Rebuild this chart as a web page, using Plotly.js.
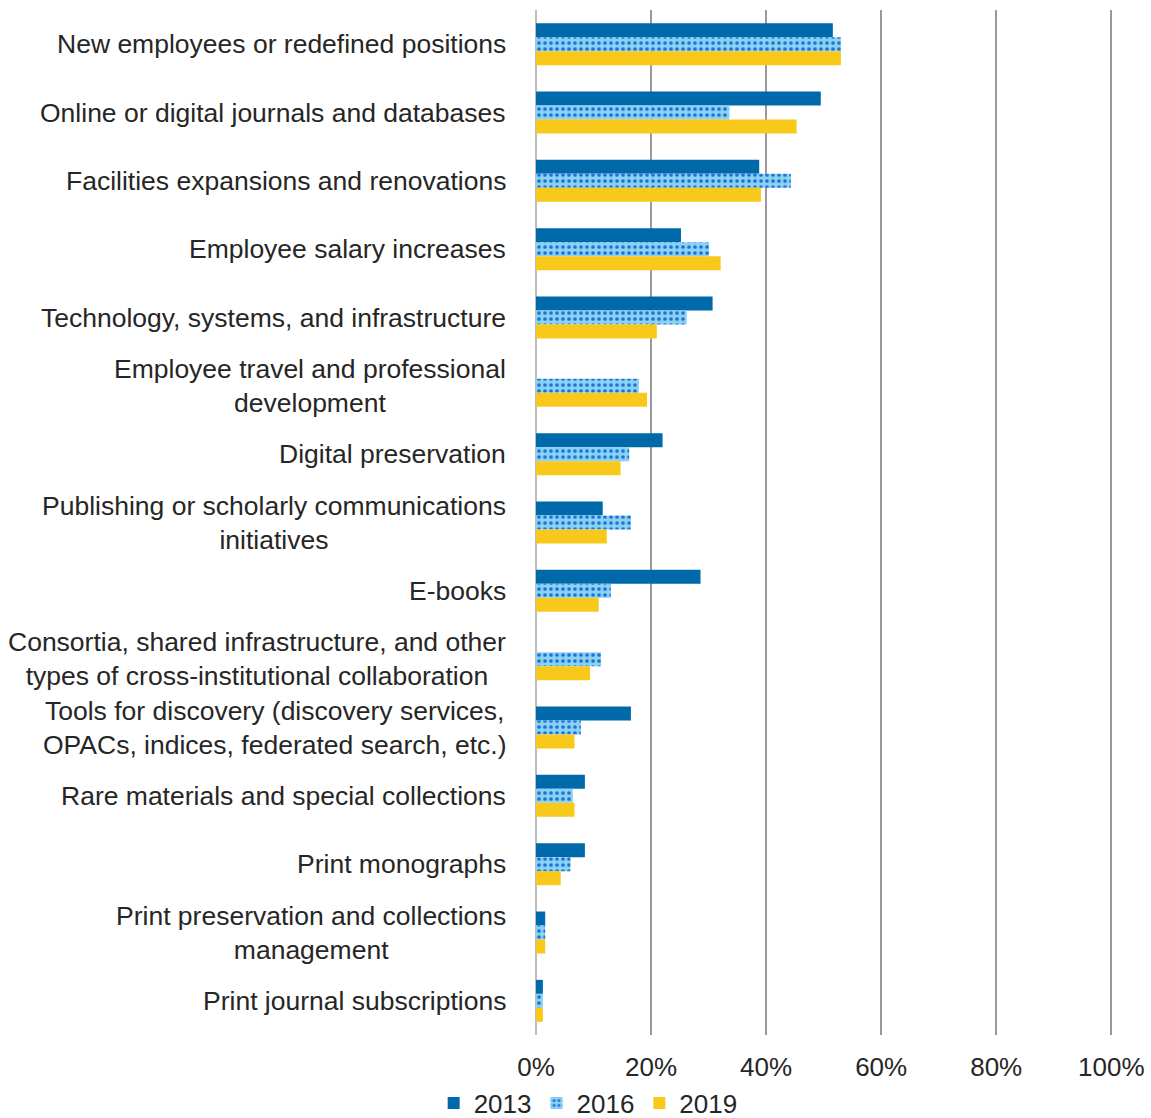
<!DOCTYPE html>
<html>
<head>
<meta charset="utf-8">
<script src="https://cdn.plot.ly/plotly-3.0.1.min.js"></script>
<style>html,body{margin:0;padding:0;background:#fff;}#chart{width:1151px;height:1118px;}</style>
</head>
<body>
<div id="chart"></div>
<script>
const categories = [
  "New employees or redefined positions",
  "Online or digital journals and databases",
  "Facilities expansions and renovations",
  "Employee salary increases",
  "Technology, systems, and infrastructure",
  "Employee travel and professional<br>development",
  "Digital preservation",
  "Publishing or scholarly communications<br>initiatives",
  "E-books",
  "Consortia, shared infrastructure, and other<br>types of cross-institutional collaboration",
  "Tools for discovery (discovery services,<br>OPACs, indices, federated search, etc.)",
  "Rare materials and special collections",
  "Print monographs",
  "Print preservation and collections<br>management",
  "Print journal subscriptions"
];
const values2013 = [51.6, 49.5, 38.8, 25.2, 30.7, null, 22.0, 11.6, 28.6, null, 16.5, 8.5, 8.5, 1.6, 1.2];
const values2016 = [53.0, 33.6, 44.3, 30.1, 26.2, 17.9, 16.2, 16.5, 13.0, 11.3, 7.8, 6.4, 6.0, 1.6, 1.2];
const values2019 = [53.0, 45.3, 39.1, 32.1, 21.0, 19.3, 14.7, 12.3, 10.9, 9.4, 6.7, 6.7, 4.3, 1.6, 1.2];
const seriesNames = ["2013", "2016", "2019"];
const xTickVals = [0, 20, 40, 60, 80, 100];
const xTickText = ["0%", "20%", "40%", "60%", "80%", "100%"];

const FONT = "Liberation Sans, Arial, sans-serif";
const TXT = "#262626";

const traces = [
  {
    type: "bar", orientation: "h", name: seriesNames[0],
    y: categories, x: values2013,
    marker: {color: "#0069AA", line: {width: 0}},
    hoverinfo: "x+y"
  },
  {
    type: "bar", orientation: "h", name: seriesNames[1],
    y: categories, x: values2016,
    marker: {
      color: "#88D3F2", line: {width: 0},
      pattern: {shape: ".", fgcolor: "#2370DA", bgcolor: "#88D3F2", size: 6, solidity: 0.3}
    },
    hoverinfo: "x+y"
  },
  {
    type: "bar", orientation: "h", name: seriesNames[2],
    y: categories, x: values2019,
    marker: {color: "#F8C91B", line: {width: 0}},
    hoverinfo: "x+y"
  }
];

const annotations = categories.map(c => ({
  text: c, xref: "paper", yref: "y", x: 0, y: c,
  xanchor: "right", yanchor: "middle", align: "center",
  xshift: -28, showarrow: false,
  font: {family: FONT, size: 26.5, color: TXT}
}));

const layout = {
  width: 1151, height: 1118,
  margin: {l: 536, r: 38, t: 10, b: 83},
  paper_bgcolor: "#fff", plot_bgcolor: "#fff",
  barmode: "group", bargap: 0.386, bargroupgap: 0,
  font: {family: FONT, size: 26, color: TXT},
  showlegend: true,
  legend: {
    orientation: "h", xref: "container", yref: "container",
    x: 0.511, xanchor: "center", y: 0.0134, yanchor: "middle",
    font: {family: FONT, size: 26, color: TXT},
    itemwidth: 30, tracegroupgap: 0, traceorder: "normal"
  },
  xaxis: {
    range: [0, 100.3], tickmode: "array", tickvals: xTickVals, ticktext: xTickText,
    showgrid: true, gridcolor: "#9A9A9A", gridwidth: 2,
    zeroline: true, zerolinecolor: "#BDBDBD", zerolinewidth: 2,
    showline: false, ticks: "", ticklabelstandoff: 14,
    tickfont: {family: FONT, size: 26, color: TXT},
    fixedrange: true
  },
  yaxis: {
    type: "category", autorange: "reversed",
    showticklabels: false, showgrid: false, zeroline: false,
    showline: false, ticks: "", fixedrange: true
  },
  annotations: annotations
};

Plotly.newPlot("chart", traces, layout, {displayModeBar: false, staticPlot: true});
</script>
</body>
</html>
